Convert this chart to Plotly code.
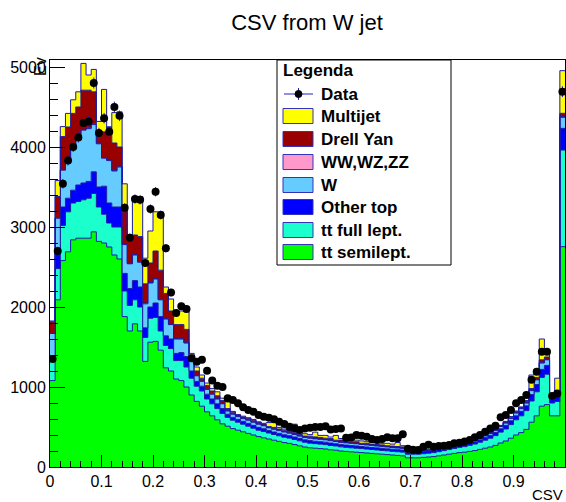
import numpy as np
import plotly.graph_objects as go

# ---- data (100 bins of CSV, width 0.01) ----
n_bins = 100
bin_lo, bin_hi = 0.0, 1.0

tt_semilept = [1080, 2090, 2580, 2690, 2840, 2860, 2860, 2860, 2940, 2820,
               2800, 2750, 2650, 2600, 1880, 1700, 1790, 1700, 1320, 1560,
               1570, 1460, 1240, 1200, 1100, 1080, 1000, 900, 820, 760,
               690, 640, 590, 540, 510, 480, 460, 440, 420, 400,
               380, 365, 350, 335, 320, 305, 295, 280, 265, 250,
               240, 235, 230, 225, 215, 210, 200, 195, 190, 185,
               180, 175, 170, 165, 160, 155, 150, 145, 140, 115,
               115, 115, 120, 125, 130, 140, 150, 160, 170, 180,
               185, 195, 205, 220, 235, 250, 270, 300, 325, 360,
               400, 430, 470, 560, 640, 760, 780, 640, 640, 2754]
tt_full_lept = [290, 390, 440, 500, 460, 460, 480, 500, 480, 430,
                360, 300, 350, 400, 320, 320, 300, 300, 300, 300,
                300, 240, 280, 280, 230, 250, 250, 210, 190, 190,
                160, 150, 140, 130, 110, 105, 100, 95, 90, 85,
                80, 78, 75, 72, 70, 68, 66, 64, 62, 60,
                58, 57, 56, 55, 54, 53, 52, 51, 50, 50,
                50, 49, 48, 48, 47, 47, 46, 46, 46, 45,
                45, 45, 46, 48, 50, 52, 55, 58, 62, 66,
                70, 76, 82, 90, 100, 110, 122, 136, 150, 170,
                190, 210, 235, 265, 300, 360, 380, 160, 180, 1208]
other_top = [10, 190, 230, 170, 160, 205, 210, 210, 270, 250,
             350, 250, 250, 250, 220, 210, 240, 250, 120, 140,
             180, 180, 120, 120, 90, 100, 130, 90, 60, 60,
             60, 60, 60, 60, 40, 35, 35, 35, 35, 35,
             35, 35, 30, 30, 30, 30, 30, 30, 30, 30,
             32, 30, 30, 30, 30, 28, 28, 28, 28, 28,
             26, 26, 26, 26, 26, 25, 25, 25, 25, 25,
             25, 25, 26, 26, 26, 26, 12, 20, 22, 24,
             24, 26, 28, 30, 32, 35, 40, 42, 45, 48,
             50, 55, 60, 80, 90, 100, 110, 40, 60, 271]
w_jets = [290, 440, 460, 440, 520, 565, 660, 660, 590, 540,
          350, 530, 450, 500, 360, 310, 320, 310, 300, 300,
          300, 210, 210, 180, 180, 170, 170, 130, 70, 60,
          60, 60, 60, 60, 40, 40, 35, 35, 40, 40,
          40, 38, 35, 35, 35, 35, 33, 33, 30, 30,
          30, 30, 30, 30, 30, 28, 28, 28, 28, 28,
          26, 26, 26, 24, 24, 24, 22, 22, 22, 8,
          8, 8, 10, 10, 12, 12, 14, 12, 14, 14,
          14, 16, 18, 20, 22, 24, 26, 28, 30, 30,
          35, 35, 35, 50, 60, 80, 70, 25, 40, 138]
diboson = [0, 5, 8, 8, 8, 8, 10, 10, 10, 8,
           8, 8, 8, 8, 6, 6, 6, 6, 10, 6,
           6, 6, 5, 5, 5, 5, 5, 5, 5, 5,
           5, 5, 5, 5, 5, 5, 5, 5, 5, 5,
           5, 4, 5, 5, 5, 5, 4, 5, 5, 4,
           5, 4, 5, 5, 5, 5, 4, 4, 4, 4,
           4, 4, 4, 4, 4, 4, 4, 4, 4, 2,
           2, 2, 2, 2, 2, 2, 2, 2, 2, 2,
           2, 2, 2, 2, 3, 3, 3, 3, 3, 3,
           4, 4, 4, 5, 5, 5, 5, 3, 5, 10]
drell_yan = [145, 265, 412, 442, 432, 402, 490, 470, 400, 152,
             322, 412, 342, 242, 464, 334, 244, 314, 240, 244,
             344, 364, 315, 165, 175, 175, 165, 65, 55, 35,
             45, 35, 35, 35, 25, 20, 15, 15, 20, 20,
             15, 16, 10, 18, 15, 17, 16, 23, 15, 12,
             20, 20, 19, 15, 21, 11, 24, 20, 16, 21,
             10, 16, 12, 14, 15, 11, 14, 14, 14, 3,
             3, 3, 3, 2, 3, 3, 4, 1, 3, 2,
             3, 3, 3, 5, 5, 5, 6, 8, 10, 12,
             12, 12, 16, 20, 25, 35, 30, 12, 25, 40]
multijet = [10, 200, 125, 170, 170, 190, 335, 190, 280, 120,
            530, 0, 380, 440, 290, 0, 480, 500, 320, 400,
            490, 730, 80, 150, 160, 170, 220, 20, 50, 40,
            30, 30, 50, 30, 85, 10, 5, 10, 5, 10,
            10, 10, 50, 100, 20, 15, 12, 100, 18, 30,
            20, 60, 25, 35, 20, 60, 20, 20, 40, 20,
            30, 20, 20, 35, 20, 30, 25, 50, 15, 2,
            2, 2, 3, 2, 2, 55, 3, 2, 2, 2,
            2, 2, 2, 3, 3, 3, 3, 3, 7, 7,
            9, 4, 10, 170, 80, 260, 65, 20, 160, 533]
data = [1350, 2700, 3540, 3830, 4000, 4120, 4300, 4320, 4800, 4175,
        4360, 4190, 4500, 4390, 3240, 2865, 3350, 3340, 2550, 3225,
        3440, 3150, 2735, 2180, 1925, 2010, 1975, 1360, 1316, 1340,
        1204, 1080, 1017, 1000, 860, 837, 796, 746, 712, 692,
        650, 629, 617, 596, 567, 537, 504, 483, 462, 480,
        490, 500, 500, 510, 470, 475, 480, 365, 370, 400,
        390, 379, 350, 337, 350, 371, 360, 358, 408, 229,
        215, 212, 254, 279, 254, 262, 267, 275, 296, 304,
        320, 337, 371, 400, 442, 480, 516, 621, 650, 712,
        796, 837, 900, 1090, 1192, 1442, 1442, 887, 920, 4692]

# stack order bottom -> top
stack = [
    ("tt semilept.", tt_semilept, "#00ff00"),
    ("tt full lept.", tt_full_lept, "#1affcc"),
    ("Other top", other_top, "#0000ff"),
    ("W", w_jets, "#66ccff"),
    ("WW,WZ,ZZ", diboson, "#ff99cc"),
    ("Drell Yan", drell_yan, "#990000"),
    ("Multijet", multijet, "#ffff00"),
]
legend_order = ["Multijet", "Drell Yan", "WW,WZ,ZZ", "W", "Other top",
                "tt full lept.", "tt semilept."]

edges = np.linspace(bin_lo, bin_hi, n_bins + 1)
centers = 0.5 * (edges[:-1] + edges[1:])
outline = "#1a1aa6"

fig = go.Figure()
for name, vals, col in stack:
    yv = list(vals) + [vals[-1]]
    fig.add_trace(go.Scatter(
        x=edges, y=yv, mode="lines", stackgroup="mc", line_shape="hv",
        line=dict(color=outline, width=1), fillcolor=col,
        name=name, showlegend=False, hoverinfo="skip"))

d = np.array(data, dtype=float)
fig.add_trace(go.Scatter(
    x=centers, y=d, mode="markers", name="Data", showlegend=False,
    marker=dict(color="black", size=8),
    error_y=dict(type="data", array=np.sqrt(d), color="#2020c0", thickness=1, width=0),
    error_x=dict(type="constant", value=0.005, color="#2020c0", thickness=1, width=0)))

# ---- layout in pixels ----
W, H = 566, 502
L, R, T, B = 50, 1, 60, 35
pw, ph = W - L - R, H - T - B
ymax = 5087.5

def px(x):
    return (x - L) / pw

def py(y):
    return (H - B - y) / ph

shapes = []
annots = []
# legend box
shapes.append(dict(type="rect", xref="paper", yref="paper", x0=px(277), x1=px(451),
                   y0=py(265), y1=py(60), line=dict(color="black", width=1),
                   fillcolor="white", layer="above"))
lfont = dict(family="Liberation Sans, Arial", size=17, color="black")
annots.append(dict(text="<b>Legenda</b>", xref="paper", yref="paper", x=px(281), y=py(71),
                   xanchor="left", yanchor="middle", showarrow=False, font=lfont))
row_y = [94, 116, 139, 162, 185, 207, 230, 252]
# data entry
shapes.append(dict(type="line", xref="paper", yref="paper", x0=px(284), x1=px(313),
                   y0=py(row_y[0]), y1=py(row_y[0]), line=dict(color="#2020c0", width=1), layer="above"))
shapes.append(dict(type="line", xref="paper", yref="paper", x0=px(298.5), x1=px(298.5),
                   y0=py(row_y[0] - 6), y1=py(row_y[0] + 6), line=dict(color="#2020c0", width=1), layer="above"))
shapes.append(dict(type="circle", xref="paper", yref="paper", x0=px(295), x1=px(302),
                   y0=py(row_y[0] + 3.5), y1=py(row_y[0] - 3.5), line=dict(color="black", width=1),
                   fillcolor="black", layer="above"))
annots.append(dict(text="<b>Data</b>", xref="paper", yref="paper", x=px(319), y=py(row_y[0]),
                   xanchor="left", yanchor="middle", showarrow=False, font=lfont))
colmap = {n: c for n, _, c in stack}
for i, name in enumerate(legend_order):
    yc = row_y[i + 1]
    shapes.append(dict(type="rect", xref="paper", yref="paper", x0=px(283), x1=px(313),
                       y0=py(yc + 7.5), y1=py(yc - 7.5), line=dict(color="#3333bb", width=1),
                       fillcolor=colmap[name], layer="above"))
    annots.append(dict(text="<b>%s</b>" % name, xref="paper", yref="paper", x=px(319), y=py(yc),
                       xanchor="left", yanchor="middle", showarrow=False, font=lfont))

# y title fragment and x title
annots.append(dict(text="Ev", xref="paper", yref="paper", x=px(41), y=py(67), textangle=-90,
                   xanchor="center", yanchor="middle", showarrow=False,
                   font=dict(family="Liberation Sans, Arial", size=16, color="black")))
annots.append(dict(text="CSV", xref="paper", yref="paper", x=1.0, y=py(494),
                   xanchor="right", yanchor="middle", showarrow=False,
                   font=dict(family="Liberation Sans, Arial", size=15, color="black")))

fig.update_layout(
    width=W, height=H, margin=dict(l=L, r=R, t=T, b=B),
    paper_bgcolor="white", plot_bgcolor="white",
    title=dict(text="CSV from W jet", xref="container", x=307 / W, xanchor="center",
               yref="container", y=1 - 22 / H, yanchor="middle",
               font=dict(family="Liberation Sans, Arial", size=22, color="black")),
    shapes=shapes, annotations=annots, showlegend=False,
    xaxis=dict(range=[bin_lo, bin_hi], tickvals=[0, 0.1, 0.2, 0.3, 0.4, 0.5, 0.6, 0.7, 0.8, 0.9, 1],
               ticktext=["0", "0.1", "0.2", "0.3", "0.4", "0.5", "0.6", "0.7", "0.8", "0.9", "1"],
               ticks="inside", ticklen=12, tickcolor="black", showgrid=False, zeroline=False,
               showline=True, linecolor="black", linewidth=1, mirror=True,
               minor=dict(ticks="inside", ticklen=6, dtick=0.02, tick0=0, tickcolor="black"),
               tickfont=dict(family="Liberation Sans, Arial", size=16, color="black")),
    yaxis=dict(range=[0, ymax], tickvals=[0, 1000, 2000, 3000, 4000, 5000],
               ticks="inside", ticklen=15, tickcolor="black", showgrid=False, zeroline=False,
               showline=True, linecolor="black", linewidth=1, mirror=True,
               minor=dict(ticks="inside", ticklen=8, dtick=200, tick0=0, tickcolor="black"),
               tickfont=dict(family="Liberation Sans, Arial", size=16, color="black")),
)
fig.write_html("out.html")
